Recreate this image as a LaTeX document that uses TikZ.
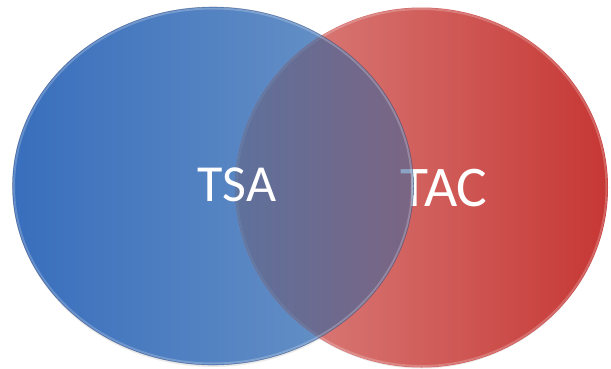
\documentclass[tikz,border=0pt]{standalone}
\usepackage{fontspec}
\setmainfont{Carlito}
\definecolor{blueL}{RGB}{56,110,188}
\definecolor{blueR}{RGB}{112,152,200}
\definecolor{redL}{RGB}{220,135,132}
\definecolor{redR}{RGB}{198,55,52}
\definecolor{ovL}{RGB}{10,98,172}
\definecolor{ovR}{RGB}{66,104,156}
\definecolor{rimdark}{RGB}{60,70,110}
\tikzset{
  label/.style={text=white, inner sep=0pt, anchor=center},
  rim/.style={draw=white, draw opacity=0.22, line width=2pt},
  softshadow/.style={fill=black, fill opacity=0.08},
}
\begin{document}
\begin{tikzpicture}[x=1pt,y=-1pt]
\useasboundingbox (0,0) rectangle (611,368);
% soft shadows
\fill[softshadow] (213,188) ellipse [x radius=200pt, y radius=179pt];
\fill[softshadow] (421.5,189) ellipse [x radius=186pt, y radius=179.5pt];
% blue set
\shade[left color=blueL, right color=blueR] (213,186) ellipse [x radius=200.5pt, y radius=179pt];
% red set
\shade[left color=redL, right color=redR] (421.5,187.5) ellipse [x radius=186.5pt, y radius=180pt];
\draw[rim] (421.5,187.5) ellipse [x radius=185pt, y radius=178.5pt];
% TAC label (partly under the blue layer)
\node[label, font=\fontsize{57.5}{57.5}\selectfont] (tac) at (444,188.5) {TAC};
% overlap
\begin{scope}
  \clip (213,186) ellipse [x radius=200.5pt, y radius=179pt];
  \clip (421.5,187.5) ellipse [x radius=186.5pt, y radius=180pt];
  \shade[left color=ovL, right color=ovR, opacity=0.6] (235,0) rectangle (414,368);
\end{scope}
\draw[rim] (213,186) ellipse [x radius=199pt, y radius=177.5pt];
\draw[draw=rimdark, draw opacity=0.45, line width=0.6pt] (213,186) ellipse [x radius=200.5pt, y radius=179pt];
% TSA label
\node[label, font=\fontsize{52}{52}\selectfont] (tsa) at (237,185) {TSA};
\end{tikzpicture}
\end{document}
